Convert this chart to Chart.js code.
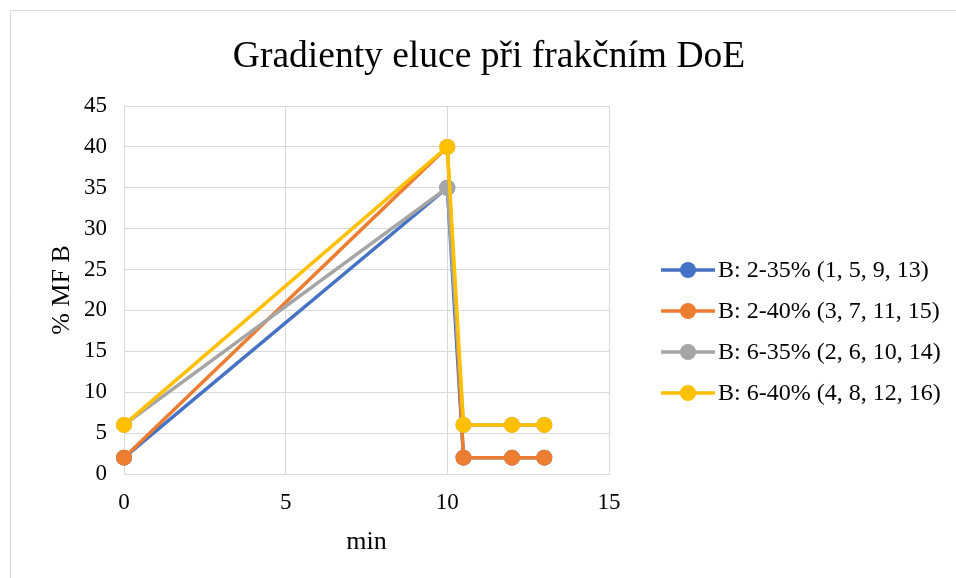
<!DOCTYPE html>
<html>
<head>
<meta charset="utf-8">
<script src="https://cdn.jsdelivr.net/npm/chart.js@4.4.0/dist/chart.umd.min.js"></script>
<style>
  html, body { margin: 0; padding: 0; background: #fff; }
  #wrap { position: relative; width: 956px; height: 578px; }
</style>
</head>
<body>
<div id="wrap"><canvas id="chart" width="956" height="578"></canvas></div>
<script>
const chartTitle = 'Gradienty eluce při frakčním DoE';
const xTitle = 'min';
const yTitle = '% MF B';
const seriesNames = [
  'B: 2-35% (1, 5, 9, 13)',
  'B: 2-40% (3, 7, 11, 15)',
  'B: 6-35% (2, 6, 10, 14)',
  'B: 6-40% (4, 8, 12, 16)'
];
const timeMin = [0, 10, 10.5, 12, 13];
const seriesB2to35 = [2, 35, 2, 2, 2];
const seriesB2to40 = [2, 40, 2, 2, 2];
const seriesB6to35 = [6, 35, 6, 6, 6];
const seriesB6to40 = [6, 40, 6, 6, 6];
const seriesColors = ['#4472C4', '#ED7D31', '#A5A5A5', '#FFC000'];
const xTicks = [0, 5, 10, 15];
const yTicks = [0, 5, 10, 15, 20, 25, 30, 35, 40, 45];

const FONT = '"Liberation Serif", "Times New Roman", serif';
const GRID = '#d9d9d9';

const allSeries = [seriesB2to35, seriesB2to40, seriesB6to35, seriesB6to40];

// later series sit on top, like in Excel
const datasets = allSeries.map((vals, i) => ({
  label: seriesNames[i],
  data: vals.map((v, j) => ({ x: timeMin[j], y: v })),
  showLine: true,
  borderColor: seriesColors[i],
  backgroundColor: seriesColors[i],
  pointBackgroundColor: seriesColors[i],
  pointBorderColor: seriesColors[i],
  borderWidth: 3.5,
  pointRadius: 8,
  pointBorderWidth: 0,
  pointHoverRadius: 8,
  order: allSeries.length - i,
  clip: false
}));

// frame, title and legend
const decor = {
  id: 'decor',
  beforeDraw(chart) {
    const ctx = chart.ctx;
    ctx.save();
    ctx.fillStyle = '#fff';
    ctx.fillRect(0, 0, chart.width, chart.height);
    ctx.strokeStyle = GRID;
    ctx.lineWidth = 1;
    ctx.beginPath();
    ctx.moveTo(10.5, chart.height);
    ctx.lineTo(10.5, 10.5);
    ctx.lineTo(chart.width, 10.5);
    ctx.stroke();
    ctx.restore();
  },
  afterDraw(chart) {
    const ctx = chart.ctx;
    ctx.save();
    ctx.fillStyle = '#000';
    ctx.font = '37.5px ' + FONT;
    ctx.textAlign = 'center';
    ctx.textBaseline = 'middle';
    ctx.fillText(chartTitle, 489, 57);

    ctx.font = '24px ' + FONT;
    ctx.textAlign = 'left';
    seriesNames.forEach((name, i) => {
      const y = 270 + i * 41;
      ctx.strokeStyle = seriesColors[i];
      ctx.lineWidth = 3.5;
      ctx.beginPath();
      ctx.moveTo(661, y);
      ctx.lineTo(715, y);
      ctx.stroke();
      ctx.fillStyle = seriesColors[i];
      ctx.beginPath();
      ctx.arc(688, y, 8, 0, Math.PI * 2);
      ctx.fill();
      ctx.fillStyle = '#000';
      ctx.fillText(name, 718, y + 1);
    });
    ctx.restore();
  }
};

new Chart(document.getElementById('chart'), {
  type: 'scatter',
  data: { datasets },
  options: {
    responsive: false,
    animation: false,
    devicePixelRatio: 1,
    layout: { padding: { top: 106, right: 347, left: 0, bottom: 0 } },
    plugins: {
      legend: { display: false },
      title: { display: false },
      tooltip: { enabled: false }
    },
    scales: {
      x: {
        type: 'linear',
        min: 0,
        max: 15,
        afterBuildTicks: (s) => { s.ticks = xTicks.map(v => ({ value: v })); },
        afterFit: (s) => { s.height = 104; },
        grid: { color: GRID, drawTicks: false },
        border: { color: GRID },
        ticks: { color: '#000', font: { family: FONT, size: 23 }, padding: 15, maxRotation: 0 },
        title: {
          display: true, text: xTitle, color: '#000',
          font: { family: FONT, size: 26 }, padding: { top: 0, bottom: 20 }
        }
      },
      y: {
        type: 'linear',
        min: 0,
        max: 45,
        afterBuildTicks: (s) => { s.ticks = yTicks.map(v => ({ value: v })); },
        afterFit: (s) => { s.width = 124; },
        grid: { color: GRID, drawTicks: false },
        border: { color: GRID },
        ticks: { color: '#000', font: { family: FONT, size: 23 }, padding: 17 },
        title: {
          display: true, text: yTitle, color: '#000',
          font: { family: FONT, size: 26 }, padding: { top: 47, bottom: 0 }
        }
      }
    }
  },
  plugins: [decor]
});
</script>
</body>
</html>
